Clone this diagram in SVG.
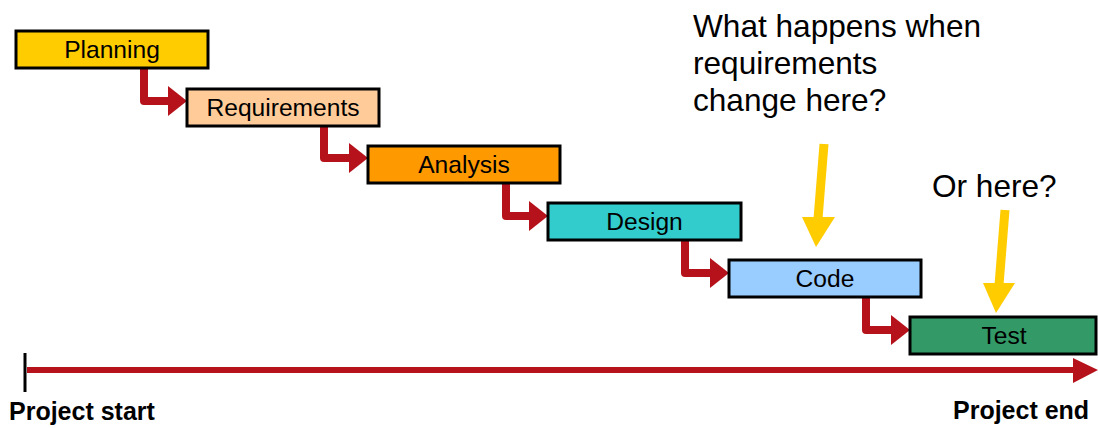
<svg xmlns="http://www.w3.org/2000/svg" width="1098" height="428" viewBox="0 0 1098 428">
<style>
.box{stroke:#000;stroke-width:3}
.lbl{font-family:"Liberation Sans",Arial,sans-serif;font-size:24.6px;text-anchor:middle;fill:#000}
.q{font-family:"Liberation Sans",Arial,sans-serif;font-size:31.6px;fill:#000}
.pe{font-family:"Liberation Sans",Arial,sans-serif;font-size:25px;font-weight:bold;fill:#000}
.red{fill:none;stroke:#B5121B;stroke-width:8;stroke-linejoin:round}
.redh{fill:#B5121B}
.yel{stroke:#FFCC00;stroke-width:9;fill:none}
.yelh{fill:#FFCC00}
</style>
<rect width="1098" height="428" fill="#fff"/>
<g id="connectors">
  <polyline class="red" points="144,68 144,101 171,101"/>
  <polygon class="redh" points="168,86 187,101 168,116"/>
  <polyline class="red" points="324,126 324,158 352,158"/>
  <polygon class="redh" points="349,143 368,158 349,173"/>
  <polyline class="red" points="506,183 506,216 532,216"/>
  <polygon class="redh" points="529,201 548,216 529,231"/>
  <polyline class="red" points="685,240 685,273 713,273"/>
  <polygon class="redh" points="710,258 729,273 710,288"/>
  <polyline class="red" points="866,297 866,330 894,330"/>
  <polygon class="redh" points="891,315 910,330 891,345"/>
  <line class="yel" x1="824" y1="144" x2="818" y2="219"/>
  <polygon class="yelh" points="802,217 835,217 816,247"/>
  <line class="yel" x1="1005" y1="210" x2="999" y2="285"/>
  <polygon class="yelh" points="983,283 1015,283 996,313"/>
</g>
<g id="timeline">
  <line x1="25" y1="353" x2="25" y2="392" stroke="#000" stroke-width="3"/>
  <line x1="27" y1="370" x2="1076" y2="370" stroke="#B5121B" stroke-width="6"/>
  <polygon class="redh" points="1073,358 1098,370 1073,383"/>
</g>
<g id="planning"><rect class="box" x="16" y="31" width="192" height="37" fill="#FFCC00"/><text class="lbl" x="112" y="58">Planning</text></g>
<g id="requirements"><rect class="box" x="187" y="89" width="192" height="37" fill="#FFCC99"/><text class="lbl" x="283" y="116">Requirements</text></g>
<g id="analysis"><rect class="box" x="368" y="146" width="192" height="37" fill="#FF9900"/><text class="lbl" x="464" y="173">Analysis</text></g>
<g id="design"><rect class="box" x="548" y="203" width="193" height="37" fill="#33CCCC"/><text class="lbl" x="644.5" y="230">Design</text></g>
<g id="code"><rect class="box" x="729" y="260" width="192" height="37" fill="#99CCFF"/><text class="lbl" x="825" y="287">Code</text></g>
<g id="test"><rect class="box" x="910" y="317" width="186" height="37" fill="#339966"/><text class="lbl" x="1004" y="344">Test</text></g>
<g id="question1"><text class="q" x="693" y="37">What happens when</text><text class="q" x="693" y="74">requirements</text><text class="q" x="693" y="111">change here?</text></g>
<g id="question2"><text class="q" x="932" y="197">Or here?</text></g>
<g id="labels"><text class="pe" x="9" y="420">Project start</text><text class="pe" x="953" y="419">Project end</text></g>
</svg>
